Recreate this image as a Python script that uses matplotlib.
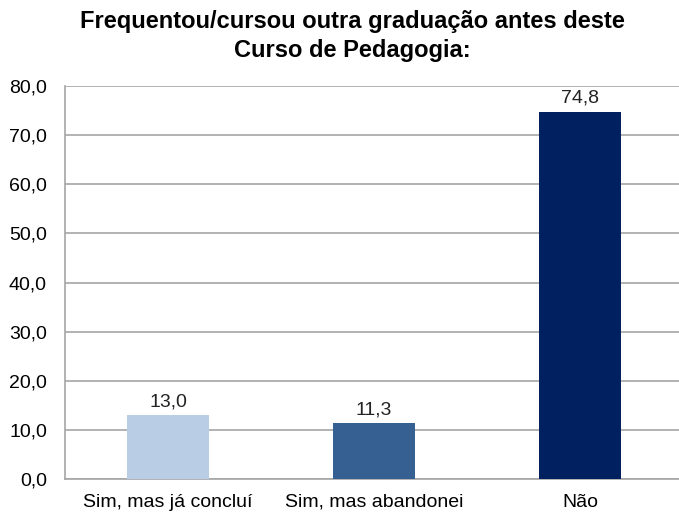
import matplotlib.pyplot as plt

categories = ['Sim, mas já concluí', 'Sim, mas abandonei', 'Não']
values = [13.0, 11.3, 74.8]
colors = ['#B9CDE5', '#376092', '#002060']
yticks = [0, 10, 20, 30, 40, 50, 60, 70, 80]

plt.rcParams['font.family'] = ['Liberation Sans', 'DejaVu Sans']

fig = plt.figure(figsize=(6.79, 5.12), dpi=100)
ax = fig.add_axes([65 / 679, 33 / 512, 618 / 679, 393 / 512])

x = range(len(categories))
bars = ax.bar(x, values, width=0.4, color=colors, zorder=3)
for b, v in zip(bars, values):
    ax.text(b.get_x() + b.get_width() / 2, v + 1.0, f'{v:.1f}'.replace('.', ','),
            ha='center', va='bottom', fontsize=14, color='#222222')

ax.set_xlim(-0.5, 2.5)
ax.set_ylim(0, 80)
ax.set_yticks(yticks)
ax.set_yticklabels([f'{t:.1f}'.replace('.', ',') for t in yticks], fontsize=14)
ax.set_xticks(list(x))
ax.set_xticklabels(categories, fontsize=14)
ax.tick_params(axis='y', length=0, pad=13)
ax.tick_params(axis='x', length=0, pad=10.5)
ax.yaxis.grid(True, color='#A6A6A6', linewidth=1.2, zorder=0)
for s in ['top', 'right']:
    ax.spines[s].set_visible(False)
for s in ['left', 'bottom']:
    ax.spines[s].set_color('#A6A6A6')
    ax.spines[s].set_linewidth(1.2)

fig.text(352 / 679, 1 - 28 / 512, 'Frequentou/cursou outra graduação antes deste',
         ha='center', va='baseline', fontsize=17, fontweight='bold')
fig.text(352 / 679, 1 - 57 / 512, 'Curso de Pedagogia:',
         ha='center', va='baseline', fontsize=17, fontweight='bold')

fig.savefig('out.png', dpi=100)
